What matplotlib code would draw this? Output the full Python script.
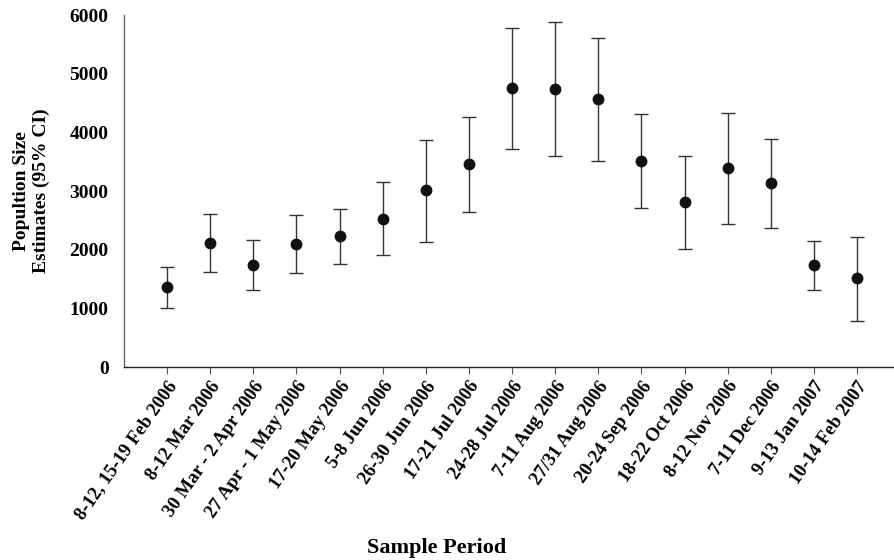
import matplotlib
matplotlib.use("Agg")
import matplotlib.pyplot as plt
import numpy as np

periods = ["8-12, 15-19 Feb 2006", "8-12 Mar 2006", "30 Mar - 2 Apr 2006",
           "27 Apr - 1 May 2006", "17-20 May 2006", "5-8 Jun 2006",
           "26-30 Jun 2006", "17-21 Jul 2006", "24-28 Jul 2006",
           "7-11 Aug 2006", "27/31 Aug 2006", "20-24 Sep 2006",
           "18-22 Oct 2006", "8-12 Nov 2006", "7-11 Dec 2006",
           "9-13 Jan 2007", "10-14 Feb 2007"]
estimate = [1360, 2120, 1740, 2100, 2225, 2530, 3010, 3455, 4750, 4745,
            4560, 3515, 2810, 3385, 3140, 1735, 1510]
ci_upper = [1712, 2605, 2170, 2585, 2700, 3150, 3878, 4265, 5783, 5880,
            5607, 4310, 3605, 4333, 3895, 2155, 2222]
ci_lower = [1013, 1627, 1318, 1610, 1750, 1915, 2133, 2644, 3719, 3600,
            3514, 2719, 2008, 2434, 2371, 1308, 791]
yticks = [0, 1000, 2000, 3000, 4000, 5000, 6000]

plt.rcParams['font.family'] = ['Liberation Serif', 'DejaVu Serif']
plt.rcParams['font.weight'] = 'bold'

fig = plt.figure(figsize=(8.95, 5.6), dpi=100)
ax = fig.add_axes([0.1385, 0.3446, 0.8615, 0.6286])

x = np.arange(len(periods))
est = np.array(estimate)
yerr = np.vstack([est - np.array(ci_lower), np.array(ci_upper) - est])
ax.errorbar(x, est, yerr=yerr, fmt='o', color='#111111', ecolor='#333333',
            elinewidth=1.0, capsize=5, capthick=1.0, markersize=7.5)

ax.set_xlim(-1, 16.88)
ax.set_ylim(0, 6000)
ax.set_yticks(yticks)
ax.set_yticklabels([str(v) for v in yticks], fontsize=14, fontweight='bold')
ax.set_xticks(x)
ax.set_xticklabels(periods, rotation=55, ha='right', rotation_mode='anchor',
                   fontsize=13.5, fontweight='bold')
ax.tick_params(axis='y', length=0, pad=11)
ax.tick_params(axis='x', length=5, width=0.8, color='#555555', pad=3)

for s in ['top', 'right']:
    ax.spines[s].set_visible(False)
ax.spines['left'].set_color('#666666')
ax.spines['left'].set_linewidth(1.0)
ax.spines['bottom'].set_color('#222222')
ax.spines['bottom'].set_linewidth(1.0)

ax.set_ylabel("Popultion Size\nEstimates (95% CI)", fontsize=14,
              fontweight='bold', linespacing=1.2, labelpad=14)
fig.text(437 / 895, 1 - 548 / 560, "Sample Period", fontsize=16,
         fontweight='bold', ha='center', va='center')

fig.savefig("out.png", dpi=100)
